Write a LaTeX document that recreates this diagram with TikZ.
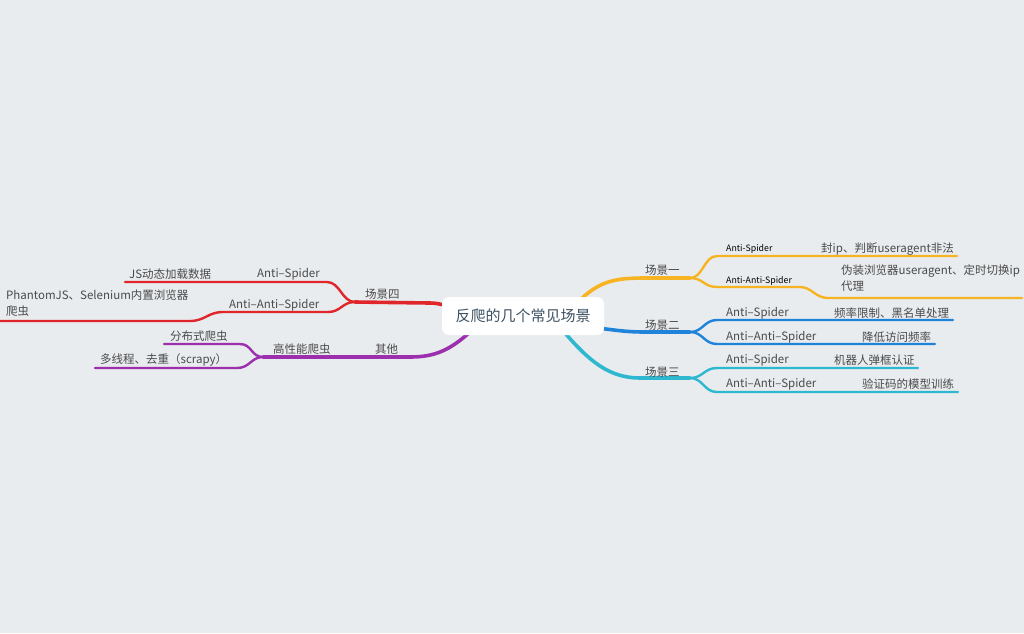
\documentclass[tikz,border=0pt]{standalone}
\usepackage{fontspec}
\setmainfont{Noto Sans CJK SC}
\definecolor{bg}{HTML}{E9ECEF}
\definecolor{txt}{HTML}{4A4A4A}
\definecolor{roottxt}{HTML}{3E5262}
\definecolor{ylw}{HTML}{F6B422}
\definecolor{blu}{HTML}{1F84D9}
\definecolor{cyn}{HTML}{2EB8CF}
\definecolor{rd}{HTML}{E0262B}
\definecolor{prp}{HTML}{9B2FAE}
\tikzset{
  lbl/.style={inner sep=0pt, text=txt, font=\fontsize{11.5}{16}\selectfont, anchor=west},
  smalllbl/.style={inner sep=0pt, text=black, font=\fontsize{8.8}{11}\selectfont, anchor=west},
  trunk/.style={line width=3.6pt, line cap=round},
  twig/.style={line width=2.4pt, line cap=round},
  rootbox/.style={fill=white, rounded corners=7pt, minimum width=162pt, minimum height=38pt, inner sep=0pt, text=roottxt, font=\fontsize{15}{18}\selectfont},
}
\begin{document}
\begin{tikzpicture}[x=1pt,y=-1pt]
\fill[bg] (0,0) rectangle (1024,633);
\useasboundingbox (0,0) rectangle (1024,633);
% coordinates
\coordinate (y0) at (580,300); \coordinate (y1) at (645,278); \coordinate (yb) at (690,278);
\coordinate (ya1) at (717,256); \coordinate (ya2) at (957,256);
\coordinate (yn1) at (717,287); \coordinate (yn2) at (800,287); \coordinate (yn3) at (828,298); \coordinate (yn4) at (1022,298);
\coordinate (b0) at (598,328); \coordinate (b1) at (645,332); \coordinate (bb) at (690,332);
\coordinate (ba1) at (717,320); \coordinate (ba2) at (953,320);
\coordinate (bn1) at (717,344); \coordinate (bn2) at (935,344);
\coordinate (c0) at (565,333); \coordinate (c1) at (640,378); \coordinate (cb) at (690,378);
\coordinate (ca1) at (717,368); \coordinate (ca2) at (918,368);
\coordinate (cn1) at (717,392); \coordinate (cn2) at (958,392);
\coordinate (r0) at (448,306); \coordinate (r1) at (430,303); \coordinate (rb) at (355,302);
\coordinate (ra1) at (327,282); \coordinate (ra2) at (125,282);
\coordinate (rn1) at (328,312); \coordinate (rn2) at (223,312); \coordinate (rn3) at (190,321); \coordinate (rn4) at (0,321);
\coordinate (p0) at (470,332); \coordinate (p1) at (410,357); \coordinate (pb) at (263,357);
\coordinate (pa1) at (240,344); \coordinate (pa2) at (164,344);
\coordinate (pn1) at (237,368); \coordinate (pn2) at (95,368);
% yellow
\draw[trunk,ylw] (y0) .. controls (600,281) and (615,278) .. (y1) -- (yb);
\draw[twig,ylw] (yb) .. controls (703,278) and (704,256) .. (ya1) -- (ya2);
\draw[twig,ylw] (yb) .. controls (703,278) and (704,287) .. (yn1) -- (yn2) .. controls (812,287) and (815,298) .. (yn3) -- (yn4);
% blue
\draw[trunk,blu] (b0) .. controls (615,330) and (625,332) .. (b1) -- (bb);
\draw[twig,blu] (bb) .. controls (703,332) and (704,320) .. (ba1) -- (ba2);
\draw[twig,blu] (bb) .. controls (703,332) and (704,344) .. (bn1) -- (bn2);
% cyan
\draw[trunk,cyn] (c0) .. controls (590,362) and (610,378) .. (c1) -- (cb);
\draw[twig,cyn] (cb) .. controls (703,378) and (704,368) .. (ca1) -- (ca2);
\draw[twig,cyn] (cb) .. controls (703,378) and (704,392) .. (cn1) -- (cn2);
% red
\draw[trunk,rd] (r0) .. controls (440,304) and (436,303) .. (r1) -- (rb);
\draw[twig,rd] (rb) .. controls (342,302) and (340,282) .. (ra1) -- (ra2);
\draw[twig,rd] (rb) .. controls (342,302) and (341,312) .. (rn1) -- (rn2) .. controls (208,312) and (205,321) .. (rn3) -- (rn4);
% purple
\draw[trunk,prp] (p0) .. controls (450,350) and (435,357) .. (p1) -- (pb);
\draw[twig,prp] (pb) .. controls (251,357) and (252,344) .. (pa1) -- (pa2);
\draw[twig,prp] (pb) .. controls (251,357) and (250,368) .. (pn1) -- (pn2);
% root
\node[rootbox] (root) at (523,316) {反爬的几个常见场景};
% labels right
\node[lbl] (s1) at (645,270) {场景一};
\node[smalllbl] (s1a) at (726,249) {Anti-Spider};
\node[smalllbl] (s1n) at (726,281) {Anti-Anti-Spider};
\node[lbl] (s1at) at (821,249) {封ip、判断useragent非法};
\node[lbl, anchor=north west, align=left] (s1nt) at (841,265) {伪装浏览器useragent、定时切换ip\\代理};
\node[lbl] (s2) at (645,325) {场景二};
\node[lbl] (s2a) at (726,313) {Anti–Spider};
\node[lbl] (s2n) at (726,337) {Anti–Anti–Spider};
\node[lbl] (s2at) at (834,313) {频率限制、黑名单处理};
\node[lbl] (s2nt) at (862,337) {降低访问频率};
\node[lbl] (s3) at (645,372) {场景三};
\node[lbl] (s3a) at (726,360) {Anti–Spider};
\node[lbl] (s3n) at (726,384) {Anti–Anti–Spider};
\node[lbl] (s3at) at (834,360) {机器人弹框认证};
\node[lbl] (s3nt) at (862,384) {验证码的模型训练};
% labels left
\node[lbl] (s4) at (365,294) {场景四};
\node[lbl] (s4a) at (257,274) {Anti–Spider};
\node[lbl] (s4n) at (229,305) {Anti–Anti–Spider};
\node[lbl] (s4at) at (129,274) {JS动态加载数据};
\node[lbl, anchor=north west, align=left] (s4nt) at (6,290) {PhantomJS、Selenium内置浏览器\\爬虫};
\node[lbl] (s5) at (375,349) {其他};
\node[lbl] (s5a) at (273,349) {高性能爬虫};
\node[lbl] (s5b) at (170,336) {分布式爬虫};
\node[lbl] (s5c) at (100,360) {多线程、去重（scrapy）};
\end{tikzpicture}
\end{document}
